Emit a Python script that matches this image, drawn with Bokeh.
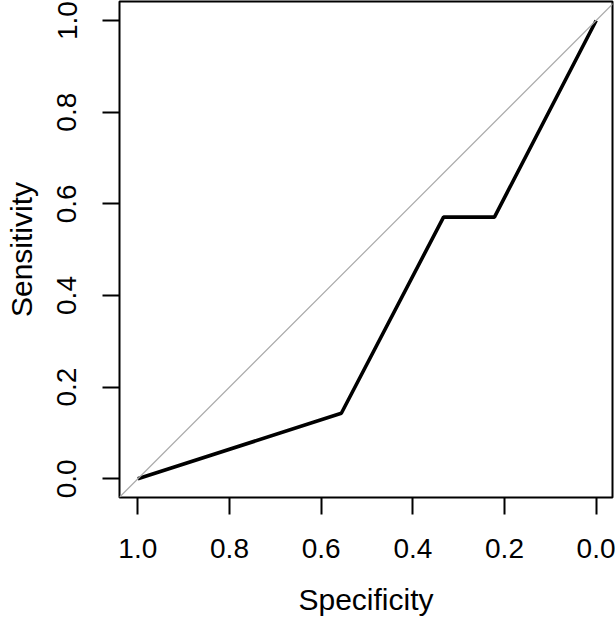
from bokeh.plotting import figure
from bokeh.models import Range1d, FixedTicker, PrintfTickFormatter, Slope
from bokeh.embed import file_html
from bokeh.resources import INLINE

# ROC curve points (reference read-off)
specificity = [1.0, 0.556, 0.333, 0.222, 0.0]
sensitivity = [0.0, 0.143, 0.571, 0.571, 1.0]
tick_values = [0.0, 0.2, 0.4, 0.6, 0.8, 1.0]
x_title = "Specificity"
y_title = "Sensitivity"

FONT = "Liberation Sans"

p = figure(width=615, height=621, output_backend="svg", toolbar_location=None,
           x_range=Range1d(1.04, -0.0356), y_range=Range1d(-0.0408, 1.0415),
           min_border_left=119, min_border_right=3, min_border_top=1,
           min_border_bottom=124,
           x_axis_label=x_title, y_axis_label=y_title)

p.background_fill_color = "white"
p.border_fill_color = "white"
p.outline_line_color = "black"
p.outline_line_width = 2
p.grid.visible = False

for ax in (p.xaxis[0], p.yaxis[0]):
    ax.ticker = FixedTicker(ticks=tick_values)
    ax.formatter = PrintfTickFormatter(format="%.1f")
    ax.axis_line_color = None
    ax.major_tick_in = 0
    ax.major_tick_out = 17
    ax.major_tick_line_width = 2
    ax.major_tick_line_color = "black"
    ax.minor_tick_line_color = None
    ax.major_label_text_font = FONT
    ax.major_label_text_font_size = "28px"
    ax.major_label_text_color = "black"
    ax.axis_label_text_font = FONT
    ax.axis_label_text_font_size = "30px"
    ax.axis_label_text_font_style = "normal"
    ax.axis_label_text_color = "black"

p.xaxis[0].major_label_standoff = 24
p.xaxis[0].axis_label_standoff = 22
p.yaxis[0].major_label_standoff = 26
p.yaxis[0].axis_label_standoff = 17
p.yaxis[0].major_label_orientation = "vertical"

# identity (chance) line
p.add_layout(Slope(gradient=-1, y_intercept=1, line_color="#A9A9A9", line_width=1.2))

# ROC curve
p.line(specificity, sensitivity, line_color="black", line_width=3.6)

open("out.html", "w").write(file_html(p, INLINE))
